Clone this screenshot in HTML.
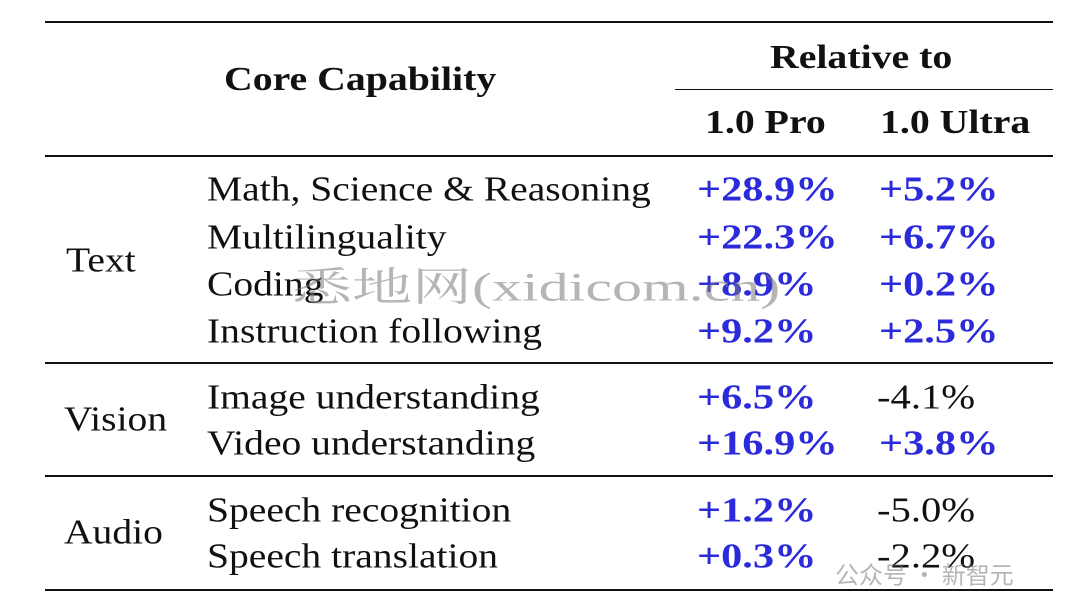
<!DOCTYPE html>
<html><head><meta charset="utf-8"><style>
body{margin:0;width:1080px;height:613px;background:#fff;position:relative;overflow:hidden;font-family:"Liberation Serif","Noto Serif CJK SC",serif;color:#111}
.t{position:absolute;white-space:nowrap;font-size:35px;line-height:1;transform-origin:0 50%;transform:translateY(-50%) scaleX(1.13)}
.b{font-weight:bold;transform:translateY(-50%) scaleX(1.17)}
.bl{color:#2b2bdc;font-weight:bold;transform:translateY(-50%) scaleX(1.21)}
.n{transform:translateY(-50%) scaleX(1.16)}
.r{position:absolute;background:#111}
.w{position:absolute;white-space:nowrap;color:rgba(120,120,120,0.55);transform-origin:0 50%;font-family:"Liberation Serif","Noto Serif CJK SC",serif}
</style></head><body>
<div class="r" style="left:45px;top:21px;width:1008px;height:2px"></div>
<div class="r" style="left:675px;top:89px;width:378px;height:1px"></div>
<div class="r" style="left:45px;top:155px;width:1008px;height:2px"></div>
<div class="r" style="left:45px;top:362px;width:1008px;height:1.5px"></div>
<div class="r" style="left:45px;top:475px;width:1008px;height:1.5px"></div>
<div class="r" style="left:45px;top:589px;width:1008px;height:2px"></div>

<div class="t b" style="left:224px;top:80px;font-size:34px">Core Capability</div>
<div class="t b" style="left:770px;top:58px;font-size:34px">Relative to</div>
<div class="t b" style="left:705px;top:123px;font-size:34px">1.0 Pro</div>
<div class="t b" style="left:880px;top:123px;font-size:34px">1.0 Ultra</div>

<div class="t" style="left:66px;top:260px">Text</div>
<div class="t" style="left:64px;top:419px">Vision</div>
<div class="t" style="left:64px;top:532px">Audio</div>

<div class="t" style="left:207px;top:189px">Math, Science &amp; Reasoning</div>
<div class="t" style="left:207px;top:237px">Multilinguality</div>
<div class="t" style="left:207px;top:284px">Coding</div>
<div class="t" style="left:207px;top:331px">Instruction following</div>
<div class="t" style="left:207px;top:397px">Image understanding</div>
<div class="t" style="left:207px;top:443px">Video understanding</div>
<div class="t" style="left:207px;top:510px">Speech recognition</div>
<div class="t" style="left:207px;top:556px">Speech translation</div>

<div class="t bl" style="left:697px;top:189px">+28.9%</div>
<div class="t bl" style="left:697px;top:237px">+22.3%</div>
<div class="t bl" style="left:697px;top:284px">+8.9%</div>
<div class="t bl" style="left:697px;top:331px">+9.2%</div>
<div class="t bl" style="left:697px;top:397px">+6.5%</div>
<div class="t bl" style="left:697px;top:443px">+16.9%</div>
<div class="t bl" style="left:697px;top:510px">+1.2%</div>
<div class="t bl" style="left:697px;top:556px">+0.3%</div>

<div class="t bl" style="left:879px;top:189px">+5.2%</div>
<div class="t bl" style="left:879px;top:237px">+6.7%</div>
<div class="t bl" style="left:879px;top:284px">+0.2%</div>
<div class="t bl" style="left:879px;top:331px">+2.5%</div>
<div class="t n" style="left:877px;top:397px">-4.1%</div>
<div class="t bl" style="left:879px;top:443px">+3.8%</div>
<div class="t n" style="left:877px;top:510px">-5.0%</div>
<div class="t n" style="left:877px;top:556px">-2.2%</div>

<div class="w" style="left:292px;top:284px;font-size:40px;transform:translateY(-50%) scaleX(1.5)">悉地网(xidicom.cn)</div>
<div class="w" style="left:835px;top:573px;font-size:24px;font-family:'Noto Sans CJK SC',sans-serif;transform:translateY(-50%)">公众号 · 新智元</div>
</body></html>
